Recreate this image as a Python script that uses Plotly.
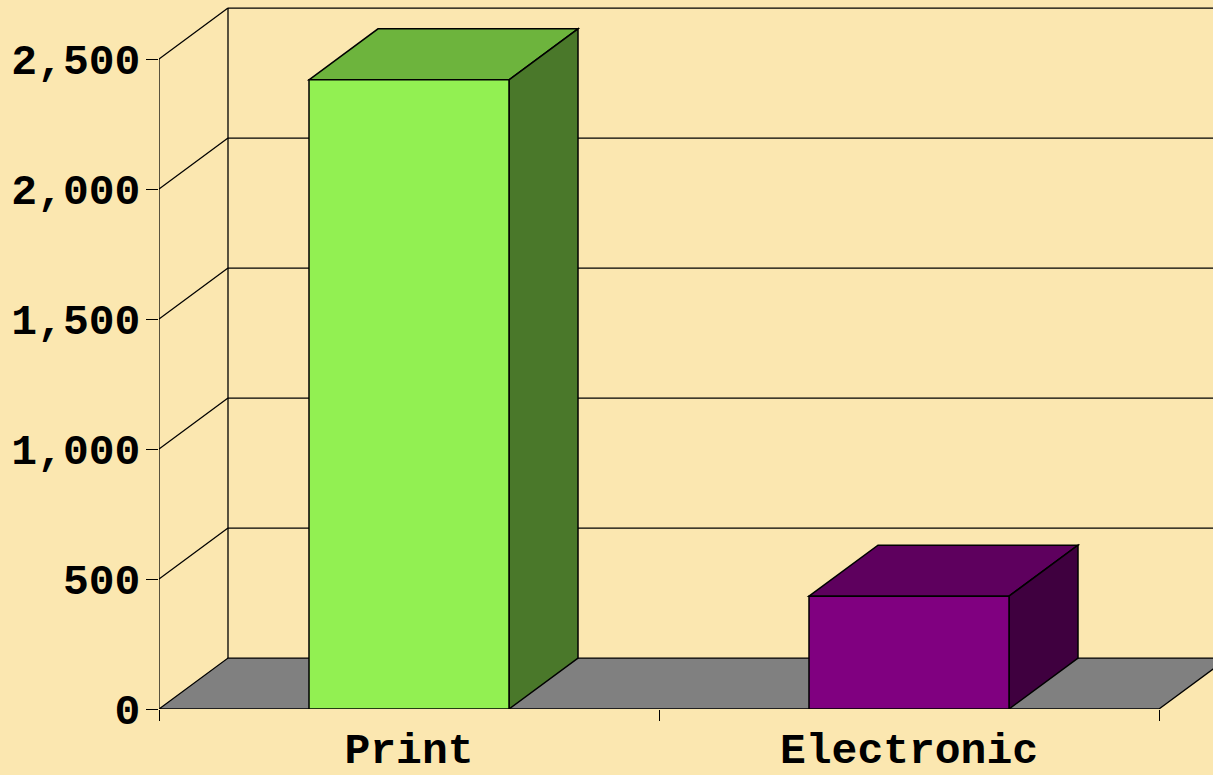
import plotly.graph_objects as go

# ---- data ----
categories = ["Print", "Electronic"]
values = [2420, 434]
front_colors = ["#92F052", "#800080"]
top_colors = ["#6DB43D", "#5E005E"]
side_colors = ["#4A782A", "#3F003F"]
y_ticks = [0, 500, 1000, 1500, 2000, 2500]

# ---- 3D geometry (depth offset in axis units) ----
DX = 0.138      # depth shift along x (category units)
DY = 196        # depth shift along y (value units)
BAR_W = 0.4
BG = "#FBE7B0"
FONT = "Liberation Mono"
FS = 43

n = len(categories)
xs = list(range(n))
x_left = -0.5
x_right = n - 0.5

shapes = []
line_k = dict(color="black", width=1.3)

# floor
shapes.append(dict(
    type="path", xref="x", yref="y", layer="below",
    path=f"M {x_left},0 L {x_right},0 L {x_right+DX},{DY} L {x_left+DX},{DY} Z",
    fillcolor="#808080", line=dict(color="black", width=1.3)))

# back-wall gridlines and diagonals
for v in y_ticks:
    if v > 0:
        shapes.append(dict(type="line", xref="x", yref="y", layer="below",
                           x0=x_left + DX, x1=x_right + DX + 0.2, y0=v + DY, y1=v + DY,
                           line=line_k))
        shapes.append(dict(type="line", xref="x", yref="y", layer="below",
                           x0=x_left, x1=x_left + DX, y0=v, y1=v + DY, line=line_k))
# back wall left edge
shapes.append(dict(type="line", xref="x", yref="y", layer="below",
                   x0=x_left + DX, x1=x_left + DX, y0=DY, y1=max(y_ticks) + DY,
                   line=line_k))
# front value axis line
shapes.append(dict(type="line", xref="x", yref="y", layer="below",
                   x0=x_left, x1=x_left, y0=0, y1=max(y_ticks), line=line_k))

# bar top and side faces
for i, v in enumerate(values):
    x0 = xs[i] - BAR_W / 2
    x1 = xs[i] + BAR_W / 2
    shapes.append(dict(
        type="path", xref="x", yref="y", layer="below",
        path=f"M {x0},{v} L {x0+DX},{v+DY} L {x1+DX},{v+DY} L {x1},{v} Z",
        fillcolor=top_colors[i], line=dict(color="black", width=1.5)))
    shapes.append(dict(
        type="path", xref="x", yref="y", layer="below",
        path=f"M {x1},0 L {x1+DX},{DY} L {x1+DX},{v+DY} L {x1},{v} Z",
        fillcolor=side_colors[i], line=dict(color="black", width=1.5)))

fig = go.Figure()
fig.add_trace(go.Bar(
    x=xs, y=values, width=BAR_W,
    marker=dict(color=front_colors, line=dict(color="black", width=1.5)),
    hoverinfo="skip", showlegend=False))

W, H = 1213, 775
left, top, bottom = 159, 6, 66
px_per_unit = 500.0
x_end = x_left + (W - left) / px_per_unit
px_per_val = (709 - 59) / 2500.0
y_end = (H - bottom - top) / px_per_val

fig.update_layout(
    width=W, height=H,
    margin=dict(l=left, r=0, t=top, b=bottom, pad=0, autoexpand=False),
    paper_bgcolor=BG, plot_bgcolor=BG,
    shapes=shapes,
    showlegend=False,
    font=dict(family=FONT, color="black", size=FS),
    xaxis=dict(
        range=[x_left, x_end], tickvals=xs, ticktext=[f"<b>{c}</b>" for c in categories],
        ticks="", showgrid=False, zeroline=False, showline=False, automargin=False,
        tickfont=dict(family=FONT, size=FS, color="black"),
        ticklabelstandoff=10,
        minor=dict(tickvals=[x_left + k for k in range(n + 1)], ticks="outside",
                   ticklen=11, tickwidth=1.3, tickcolor="black", showgrid=False),
        fixedrange=True,
    ),
    yaxis=dict(
        range=[0, y_end], tickvals=y_ticks,
        ticktext=[f"<b>{v:,}</b>" for v in y_ticks],
        ticks="outside", ticklen=12, tickwidth=1.3, tickcolor="black",
        showgrid=False, zeroline=False, showline=False, automargin=False,
        tickfont=dict(family=FONT, size=FS, color="black"),
        ticklabelstandoff=-3,
        fixedrange=True,
    ),
)

fig.write_html(
    "out.html",
    config={"displayModeBar": False},
    post_script="document.body.style.margin='0';document.body.style.background='" + BG + "';",
)
